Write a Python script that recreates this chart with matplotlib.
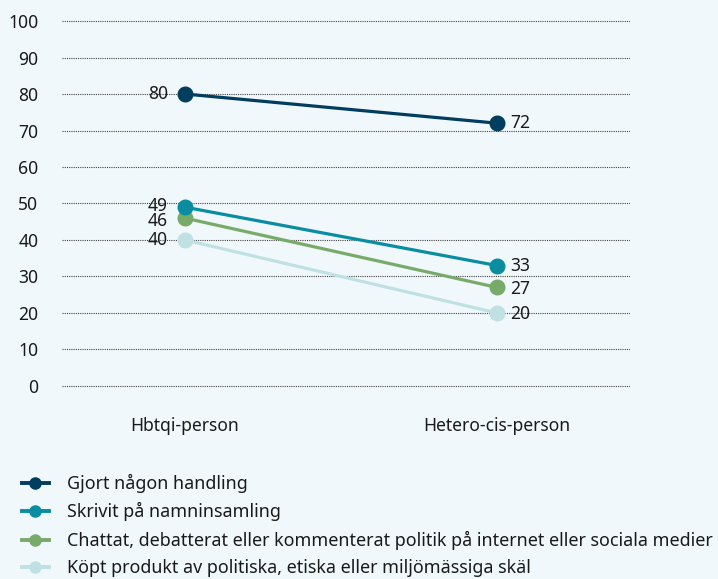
import numpy as np
import matplotlib
matplotlib.use("Agg")
from matplotlib import pyplot as plt
from matplotlib.lines import Line2D

plt.rcParams['font.family'] = ['Noto Sans', 'DejaVu Sans']

# データ
categories = ["Hbtqi-person", "Hetero-cis-person"]
series_names = [
    "Gjort någon handling",
    "Skrivit på namninsamling",
    "Chattat, debatterat eller kommenterat politik på internet eller sociala medier",
    "Köpt produkt av politiska, etiska eller miljömässiga skäl",
]
gjort = [80, 72]
skrivit = [49, 33]
chattat = [46, 27]
kopt = [40, 20]
colors = ["#003d5e", "#0a8da1", "#78ab69", "#bfe1e4"]

bg = "#f1f8fb"
fs = 12.6
fig = plt.figure(figsize=(7.18, 5.79), dpi=100, facecolor=bg)
ax = fig.add_axes([62 / 718, 1 - 388 / 579, (630 - 62) / 718, 369 / 579])
ax.set_facecolor(bg)

x = np.arange(len(categories))
all_series = [gjort, skrivit, chattat, kopt]
# ラベル位置の微調整（点との重なりを避ける）
left_off = [0, 0.45, -0.85, 0]
right_off = [0, 0, -0.5, -0.3]
for i in range(len(all_series) - 1, -1, -1):
    vals = all_series[i]
    ax.plot(x, vals, color=colors[i], lw=2.3, marker="o", ms=10.5,
            clip_on=False, zorder=3 + (4 - i))
for i, vals in enumerate(all_series):
    ax.text(x[0] - 0.055, vals[0] + left_off[i], str(vals[0]), ha="right",
            va="center", fontsize=fs, color="#1a1a1a")
    ax.text(x[1] + 0.042, vals[1] + right_off[i], str(vals[1]), ha="left",
            va="center", fontsize=fs, color="#1a1a1a")

ax.set_xlim(-0.394, 1.426)
ax.set_ylim(-0.55, 100.55)
ax.set_yticks(np.arange(0, 101, 10))
ax.set_xticks(x)
ax.set_xticklabels(categories)
ax.tick_params(axis="both", length=0, labelsize=fs, colors="#1a1a1a")
ax.tick_params(axis="y", pad=17)
ax.tick_params(axis="x", pad=21)
ax.grid(axis="y", linestyle=(0, (1, 1)), color="#444444", lw=0.8)
ax.set_axisbelow(True)
for s in ax.spines.values():
    s.set_visible(False)

# 凡例
handles = [Line2D([], [], color=c, lw=2.8, marker="o", ms=8) for c in colors]
leg = fig.legend(handles, series_names, loc="upper left",
                 bbox_to_anchor=(22 / 718, 1 - 474 / 579),
                 frameon=False, fontsize=12.9, handlelength=1.5, handletextpad=1.0,
                 labelspacing=0.52, borderaxespad=0, borderpad=0)
for t in leg.get_texts():
    t.set_color("#1a1a1a")

fig.savefig("out.png", dpi=100, facecolor=bg)
